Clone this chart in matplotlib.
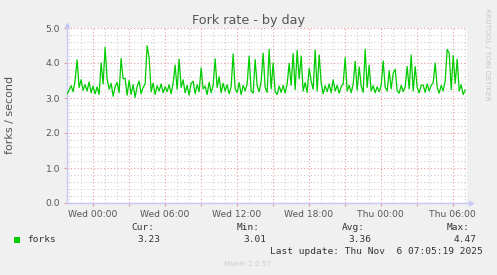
import matplotlib
matplotlib.use("Agg")
import matplotlib.pyplot as plt
import matplotlib.dates as mdates
from matplotlib.patches import Rectangle
import pandas as pd

# fork rate samples (10 min apart)
forks = [
    3.12, 3.22, 3.35, 3.18, 3.50, 4.09, 3.30, 3.52, 3.22, 3.38,
    3.20, 3.46, 3.15, 3.34, 3.12, 3.32, 3.10, 4.00, 3.40, 4.45,
    3.55, 3.25, 3.42, 3.05, 3.32, 3.45, 3.15, 4.13, 3.55, 3.56,
    3.08, 3.50, 3.10, 3.38, 3.02, 3.33, 3.48, 3.12, 3.30, 3.40,
    4.49, 4.15, 3.18, 3.42, 3.10, 3.35, 3.20, 3.40, 3.15, 3.32,
    3.18, 3.38, 3.12, 3.42, 3.94, 3.25, 4.11, 3.30, 3.52, 3.15,
    3.36, 3.08, 3.42, 3.48, 3.12, 3.38, 3.18, 3.86, 3.26, 3.34,
    3.10, 3.45, 3.15, 3.36, 4.12, 3.30, 3.61, 3.15, 3.42, 3.20,
    3.38, 3.12, 3.32, 4.26, 3.26, 3.16, 3.44, 3.10, 3.36, 3.20,
    3.40, 4.20, 3.20, 3.14, 4.10, 3.35, 3.18, 3.48, 4.28, 3.30,
    3.16, 4.39, 3.26, 4.00, 3.18, 3.10, 3.34, 3.16, 3.36, 3.14,
    3.40, 3.99, 3.36, 4.27, 3.24, 4.36, 3.55, 4.20, 3.20, 3.44,
    3.16, 3.85, 3.48, 3.25, 4.37, 3.20, 4.23, 3.44, 3.12, 3.35,
    3.18, 3.40, 3.15, 3.52, 3.20, 3.36, 3.14, 3.32, 3.40, 4.15,
    3.20, 3.36, 3.15, 3.40, 4.05, 3.22, 3.89, 3.34, 3.16, 4.39,
    3.30, 3.94, 3.20, 3.35, 3.15, 3.32, 3.18, 3.36, 4.06, 3.30,
    3.20, 3.78, 3.26, 3.71, 3.82, 3.20, 3.14, 3.36, 3.18, 3.32,
    3.90, 3.26, 4.23, 3.20, 3.90, 3.30, 3.15, 3.36, 3.37, 3.16,
    3.40, 3.20, 3.36, 3.44, 4.00, 3.30, 3.14, 3.36, 3.20, 3.50,
    4.39, 4.28, 3.24, 4.21, 3.42, 4.11, 3.20, 3.38, 3.10, 3.23,
]
times = pd.date_range("2025-11-04 21:52", periods=len(forks), freq="10min")

stat_labels = ["Cur:", "Min:", "Avg:", "Max:"]
stat_values = ["3.23", "3.01", "3.36", "4.47"]
last_update = "Last update: Thu Nov  6 07:05:19 2025"

W, H = 497, 275
fig = plt.figure(figsize=(W / 100, H / 100), dpi=100, facecolor="#f0f0f0")
ax = fig.add_axes([67 / W, 1 - 203 / H, 400 / W, 175 / H])
ax.set_facecolor("white")

ax.plot(times, forks, color="#00cc00", lw=0.9, zorder=3)

ax.set_xlim(pd.Timestamp("2025-11-04 21:51:30"), pd.Timestamp("2025-11-06 07:11"))
ax.set_ylim(0, 5)

ax.xaxis.set_major_locator(mdates.HourLocator(byhour=range(0, 24, 3)))
ax.xaxis.set_minor_locator(mdates.HourLocator())


def fmt_time(x, pos):
    d = mdates.num2date(x)
    if d.hour % 6:
        return ""
    return d.strftime("%a %H:%M")


ax.xaxis.set_major_formatter(plt.FuncFormatter(fmt_time))
ax.set_yticks([0, 1, 2, 3, 4, 5])
ax.set_yticks([v / 5 for v in range(26)], minor=True)
ax.yaxis.set_major_formatter(plt.FormatStrFormatter("%.1f"))

ax.set_axisbelow(True)
ax.grid(which="major", color="#eb9a9a", linestyle=(0, (1, 2)), lw=0.8)
ax.grid(which="minor", color="#cfcfcf", linestyle=(0, (1, 2)), lw=0.8)

ax.tick_params(which="major", axis="x", length=2, color="#eb9a9a", pad=3,
               labelsize=6.6, labelcolor="#555555")
ax.tick_params(which="major", axis="y", length=2, color="#eb9a9a", pad=3,
               labelsize=6.6, labelcolor="#555555")
ax.tick_params(which="minor", length=0)

for s in ["top", "right"]:
    ax.spines[s].set_visible(False)
for s in ["left", "bottom"]:
    ax.spines[s].set_color("#c8c8f4")
    ax.spines[s].set_linewidth(1)

# little arrow heads at the axis ends
ax.plot([1.0, 1.01], [0, 0], color="#c8c8f4", lw=1, transform=ax.transAxes, clip_on=False)
ax.plot([1.01], [0], marker=">", ms=3, color="#c8c8f4", transform=ax.transAxes, clip_on=False)
ax.plot([0, 0], [1.0, 1.02], color="#c8c8f4", lw=1, transform=ax.transAxes, clip_on=False)
ax.plot([0], [1.02], marker="^", ms=3, color="#c8c8f4", transform=ax.transAxes, clip_on=False)

fig.text(249 / W, 1 - 24.3 / H, "Fork rate - by day", ha="center", va="baseline",
         fontsize=9.2, color="#555555")
fig.text(10 / W, 1 - 115 / H, "forks / second", rotation=90, ha="center", va="center",
         fontsize=8, color="#555555")
fig.text(487.5 / W, 1 - 54 / H, "RRDTOOL / TOBI OETIKER", rotation=270, ha="center",
         va="center", fontsize=5.2, color="#c8c8c8")

mono = "DejaVu Sans Mono"
fig.patches.append(Rectangle((14 / W, 1 - 243 / H), 6 / W, 6 / H, transform=fig.transFigure,
                             facecolor="#00cc00", edgecolor="none"))
fig.text(27 / W, 1 - 240 / H, "forks", ha="left", va="center", family=mono,
         fontsize=6.8, color="#333333")
label_right = [154, 260, 365, 470]
value_right = [160, 266.7, 371.7, 476.7]
for lab, val, lx, vx in zip(stat_labels, stat_values, label_right, value_right):
    fig.text(lx / W, 1 - 227.7 / H, lab, ha="right", va="center", family=mono,
             fontsize=6.8, color="#333333")
    fig.text(vx / W, 1 - 240 / H, val, ha="right", va="center", family=mono,
             fontsize=6.8, color="#333333")
fig.text(482.3 / W, 1 - 251.7 / H, last_update, ha="right", va="center", family=mono,
         fontsize=6.8, color="#333333")
fig.text(248 / W, 1 - 264 / H, "Munin 2.0.57", ha="center", va="center",
         fontsize=5.2, color="#cccccc")

fig.savefig("out.png", dpi=100, facecolor=fig.get_facecolor())
